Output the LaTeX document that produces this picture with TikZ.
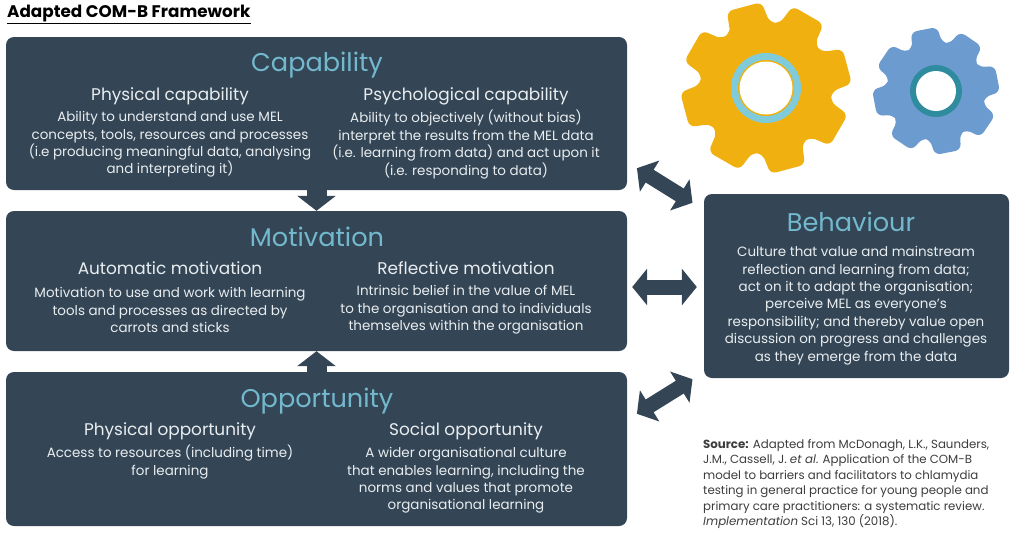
\documentclass[tikz,border=0pt]{standalone}
\usepackage{fontspec}
\setmainfont{Poppins}
\usetikzlibrary{arrows.meta}

\definecolor{boxnavy}{HTML}{344656}
\definecolor{headteal}{HTML}{73B9CE}
\definecolor{paletext}{HTML}{E9EDF0}
\definecolor{gearyellow}{HTML}{F0B00F}
\definecolor{ringblue}{HTML}{80CBDA}
\definecolor{gearblue}{HTML}{6C9BD0}
\definecolor{ringteal}{HTML}{2F8C9E}
\definecolor{sourcegrey}{HTML}{3C3C3C}

\tikzset{
  panelbox/.style={fill=boxnavy,rounded corners=8pt,inner sep=0pt},
  headtext/.style={text=headteal,font=\fontsize{25.6}{30}\selectfont,inner sep=0pt,
    text height=20pt,text depth=6pt,yshift=-2pt},
  subtext/.style={text=paletext,font=\fontsize{16.9}{20}\selectfont,inner sep=0pt,
    text height=13pt,text depth=4pt,yshift=-1.5pt},
  bodytext/.style={text=paletext,align=center,font=\fontsize{13.45}{17.4}\selectfont,inner sep=0pt,yshift=-2pt},
  bigarrow/.style={line width=15pt,draw=boxnavy,
    {Triangle[length=15pt,width=36pt]}-{Triangle[length=15pt,width=36pt]}},
  downarrow/.style={line width=20pt,draw=boxnavy,-{Triangle[length=15pt,width=38pt]}},
}

% gear: centre, tip radius, root radius, first tooth angle, colour
\newcommand{\gearwheel}[5]{
  \fill[#5,rounded corners=6pt,shift={(#1)}] (#4+18:#3 pt)
    \foreach \k in {0,...,7}{
      -- ({#4-\k*45+18}:#3 pt) -- ({#4-\k*45+12}:#2 pt) -- ({#4-\k*45-12}:#2 pt) -- ({#4-\k*45-18}:#3 pt)
    } -- cycle;
}

\begin{document}
\begin{tikzpicture}[x=1pt,y=-1pt]
  \useasboundingbox (0,0) rectangle (1024,554);

  % title
  \node[inner sep=0pt,anchor=west,font=\fontsize{16.8}{18}\selectfont\bfseries] (frametitle) at (7,14) {Adapted COM-B Framework};
  \draw[line width=1pt] ([yshift=-1pt]frametitle.south west) -- ([yshift=-1pt]frametitle.south east);

  % panels
  \node[panelbox,minimum width=621pt,minimum height=153pt] (capability) at (316.5,113.5) {};
  \node[panelbox,minimum width=621pt,minimum height=140pt] (motivation) at (316.5,281) {};
  \node[panelbox,minimum width=621pt,minimum height=154pt] (opportunity) at (316.5,449) {};
  \node[panelbox,minimum width=305pt,minimum height=184pt] (behaviour) at (856.5,286) {};

  % arrows
  \draw[downarrow] (capability) -- (motivation);
  \draw[downarrow] (opportunity) -- (motivation);
  \draw[bigarrow,shorten <=5pt,shorten >=7pt] ([yshift=-6pt]motivation.east) -- ([yshift=-1pt]behaviour.west);
  \draw[bigarrow] ([shift={(9.7pt,22pt)}]capability.south east) -- ([shift={(-11.3pt,-9pt)}]behaviour.north west);
  \draw[bigarrow] ([shift={(9.7pt,-42pt)}]opportunity.north east) -- ([shift={(-11.3pt,-1pt)}]behaviour.south west);

  % capability
  \node[headtext] (caphead) at (317,62) {Capability};
  \node[subtext] (capsubA) at (170,94) {Physical capability};
  \node[bodytext] (capbodyA) at (170,142.5) {Ability to understand and use MEL\\concepts, tools, resources and processes\\(i.e producing meaningful data, analysing\\and interpreting it)};
  \node[subtext] (capsubB) at (466,94) {Psychological capability};
  \node[bodytext] (capbodyB) at (466,142.5) {Ability to objectively (without bias)\\interpret the results from the MEL data\\(i.e. learning from data) and act upon it\\(i.e. responding to data)};

  % motivation
  \node[headtext] (mothead) at (317,237) {Motivation};
  \node[subtext] (motsubA) at (170,268) {Automatic motivation};
  \node[bodytext] (motbodyA) at (170,308) {Motivation to use and work with learning\\tools and processes as directed by\\carrots and sticks};
  \node[subtext] (motsubB) at (466,268) {Reflective motivation};
  \node[bodytext] (motbodyB) at (466,308) {Intrinsic belief in the value of MEL\\to the organisation and to individuals\\themselves within the organisation};

  % opportunity
  \node[headtext] (opphead) at (317,398) {Opportunity};
  \node[subtext] (oppsubA) at (170,429) {Physical opportunity};
  \node[bodytext] (oppbodyA) at (170,460) {Access to resources (including time)\\for learning};
  \node[subtext] (oppsubB) at (466,429) {Social opportunity};
  \node[bodytext] (oppbodyB) at (466,478.5) {A wider organisational culture\\that enables learning, including the\\norms and values that promote\\organisational learning};

  % behaviour
  \node[headtext] (behhead) at (851,222) {Behaviour};
  \node[bodytext] (behbody) at (856,303.5) {Culture that value and mainstream\\reflection and learning from data;\\act on it to adapt the organisation;\\perceive MEL as everyone's\\responsibility; and thereby value open\\discussion on progress and challenges\\as they emerge from the data};

  % source
  \node[text=sourcegrey,align=left,anchor=west,inner sep=0pt,font=\fontsize{11.8}{15.4}\selectfont] (sourcenote) at (703,484) {\textbf{Source:} Adapted from McDonagh, L.K., Saunders,\\J.M., Cassell, J. \textit{et al}. Application of the COM-B\\model to barriers and facilitators to chlamydia\\testing in general practice for young people and\\primary care practitioners: a systematic review.\\\textit{Implementation} Sci 13, 130 (2018).};

  % gears
  \gearwheel{766,88}{86}{66}{105}{gearyellow}
  \fill[ringblue] (766,88) circle (35pt);
  \fill[gearyellow] (766,88) circle (28pt);
  \fill[white] (766,88) circle (26.5pt);
  \gearwheel{936,91}{64}{49}{101}{gearblue}
  \fill[ringteal] (936,91) circle (26pt);
  \fill[white] (936,91) circle (20pt);
\end{tikzpicture}
\end{document}
